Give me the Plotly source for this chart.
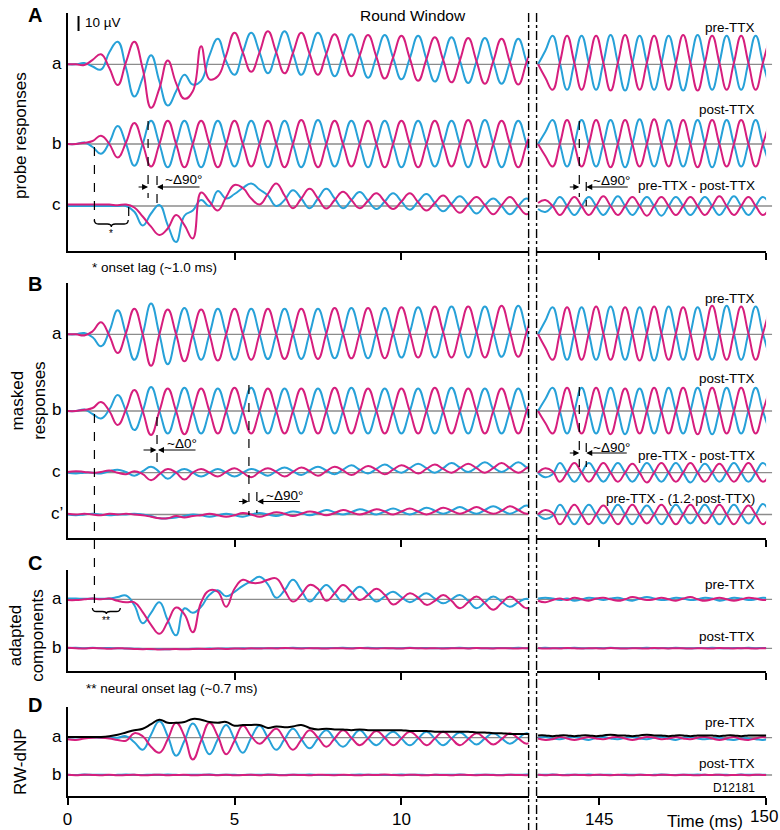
import plotly.graph_objects as go

W, H = 780, 830
PINK = "#d61e7d"
BLUE = "#27a1d8"
GRAY = "#8c8c8c"
FONT = "Liberation Sans, Arial, Helvetica, sans-serif"

# ---------------- sample times (ms) ----------------
t_left = [i * 0.25 for i in range(57)]                      # 0 .. 14 ms
t_right = [round(143.170 + j * 0.21726, 4) for j in range(33)]  # 143.2 .. 150.1 ms

# ---------------- data (µV) ----------------
# Panel A, probe responses
A_a_pink_L = [0, 0, -0.5, 3, 6.7, -2.5, -13.8, 1.5,
              15, -3, -29, -16, 2.5, -12.5, -23, -18,
              12, -10, -8, 6, 21, 8, -5, 8,
              22, 8, -6, 7.5, 21, 7, -7, 7,
              20, 6, -8, 6, 19.5, 5, -9.5, 4.5,
              19, 4, -11, 3.5, 18, 3, -12, 2.5,
              17.5, 2, -13, 2, 17, 1.5, -13.5, 1.5,
              16.5]
A_a_blue_L = [0, 0, 0.8, -1.5, -3.5, 8, 15, -2.5,
              -21.5, -9, 6, -11.5, -27.5, -18, -7, -13.5,
              -11, 6, 17, 2, -7, 8, 21, 8,
              -6, 8, 22, 7.5, -7, 7, 21, 7,
              -8, 6, 20, 6, -9, 5, 19.5, 4.5,
              -10, 4, 19, 3.5, -11.5, 3, 18, 2.5,
              -12.5, 2, 17.5, 2, -13, 1.5, 17, 1.5,
              -13.5]
A_a_pink_R = [0, -9, -17, 1, 19, 1, -17, 1, 19, 1, -17.5, 1, 19.5, 1, -17, 1,
              19, 1, -17, 1, 19.5, 1, -17.5, 1, 19, 1, -17, 1, 19, 1, -17, 1, 19]
A_a_blue_R = [0, 9, 19, 1, -17, 1, 19, 1, -17, 1, 19.5, 1, -17.5, 1, 19, 1,
              -17, 1, 19, 1, -17.5, 1, 19.5, 1, -17, 1, 19, 1, -17, 1, 19, 1, -17]

A_b_pink_L = [0, 0, 0.8, 2, 5.5, 0, -9, 1,
              14, 0, -15, 0, 15.5, 0, -15.5, 0,
              15.5, 0, -15.5, 0, 15.5, 0, -15, 0,
              15.5, 0, -15.5, 0, 16, 0, -15.5, 0,
              15.5, 0, -15, 0, 15.5, 0, -15.5, 0,
              15.5, 0, -15.5, 0, 15.5, 0, -15, 0,
              16, 0, -15.5, 0, 15.5, 0, -15.5, 0,
              15.5]
A_b_blue_L = [0, 0, 1, -2, -6.5, 1, 12, 0,
              -14.5, 0, 15.5, 0, -15.5, 0, 15.5, 0,
              -15.5, 0, 15.5, 0, -15, 0, 15.5, 0,
              -15.5, 0, 15.5, 0, -15.5, 0, 16, 0,
              -15, 0, 15.5, 0, -15.5, 0, 15.5, 0,
              -15.5, 0, 15.5, 0, -15, 0, 15.5, 0,
              -15.5, 0, 16, 0, -15.5, 0, 15.5, 0,
              -15.5]
A_b_pink_R = [0, -8, -15, 0, 16, 0, -15, 0, 16, 0, -15.5, 0, 16, 0, -15, 0,
              16.5, 0, -15, 0, 16, 0, -15.5, 0, 16, 0, -15, 0, 16, 0, -15, 0, 16]
A_b_blue_R = [0, 8, 16, 0, -15, 0, 16, 0, -15, 0, 16, 0, -15.5, 0, 16.5, 0,
              -15, 0, 16, 0, -15, 0, 16, 0, -15.5, 0, 16, 0, -15, 0, 16, 0, -15]

A_c_pink_L = [1, 1, 1, 1, 1, 1, 0.5, 1,
              -1, -7, -13.8, -19.3, -15, -6, -12.7, -21.6,
              9, 3, -3, 6, 14, 12, 5, 1,
              8, 15, 7, -1.5, 5, 11.5, 5, -1.7,
              4, 9.5, 4, -1.5, 3.5, 8.5, 3, -2,
              3, 8.5, 2.5, -3, 2, 7, 1, -4.5,
              1, 6, 0.5, -5.5, 0.5, 6, 0, -5.5,
              0]
A_c_blue_L = [0, 0, 0, 0, 0, 0, 0, 0,
              -3.8, -13, -5, 0.7, -12.7, -24, -6.5, -3,
              4, 0, 10, 5, 8, 12, 15, 11,
              7, 0, 4, 10.5, 5, -1.5, 5, 11.5,
              5, -1.5, 4, 9.3, 3.5, -2, 3, 8.5,
              3, -2.5, 3, 8, 2, -3.5, 1.5, 6.5,
              1, -5, 0.5, 5, 0, -5.5, 0, 5,
              0]
A_c_pink_R = [2, 4, 0, -6, 0, 6, 0, -6, 0, 6.5, 0, -6, 0, 6, 0, -6.5,
              0, 6, 0, -6, 0, 6, 0, -6, 0, 6.5, 0, -6, 0, 6, 0, -6, 0]
A_c_blue_R = [-2, -4, 0, 6, 0, -6, 0, 6, 0, -6, 0, 6.5, 0, -6, 0, 6,
              0, -6.5, 0, 6, 0, -6, 0, 6, 0, -6, 0, 6.5, 0, -6, 0, 6, 0]

# Panel B, masked responses
B_a_pink_L = [0, 0, -0.8, 2, 8, -1, -12.5, 1,
              17, 0, -21, 0, 16.5, 0, -18, 0,
              16.5, 0, -17.5, 0, 17, 0, -17, 0,
              17, 0, -16.5, 0.5, 17, 0.5, -16.5, 0.5,
              17.5, 0.5, -16, 0.5, 17.5, 1, -16, 1,
              18, 1, -15.5, 1.5, 18.5, 1.5, -15.5, 1.5,
              18.5, 1.5, -15.5, 1.5, 19, 1.5, -15, 1.5,
              19]
B_a_blue_L = [0, 0, 0.8, -2, -8, 2, 16, 0,
              -17, 0, 20.5, 0, -20, 0, 17.5, 0,
              -17, 0, 17, 0, -17, 0, 17, 0,
              -16.5, 0, 17, 0.5, -16.5, 0.5, 17, 0.5,
              -16, 0.5, 17.5, 0.5, -16, 1, 17.5, 1,
              -15.5, 1, 18, 1.5, -15.5, 1.5, 18.5, 1.5,
              -15.5, 1.5, 18.5, 1.5, -15, 1.5, 19, 1.5,
              -15]
B_a_pink_R = [0, -9, -17, 0.5, 18, 0.5, -17, 0.5, 18.5, 0.5, -17, 0.5, 18, 0.5, -17.5, 0.5,
              18.5, 0.5, -17, 0.5, 18, 0.5, -17, 0.5, 19, 0.5, -17, 0.5, 18.5, 0.5, -17, 0.5, 18]
B_a_blue_R = [0, 9, 18, 0.5, -17, 0.5, 18, 0.5, -17, 0.5, 18.5, 0.5, -17, 0.5, 18, 0.5,
              -17.5, 0.5, 18.5, 0.5, -17, 0.5, 18, 0.5, -17, 0.5, 19, 0.5, -17, 0.5, 18.5, 0.5, -17]

B_b_pink_L = [0, 0, 0.8, 2, 6, 0, -9.3, 1,
              14, 0, -16, 0, 15, 0, -15.5, 0,
              15, 0, -15, 0, 15.5, 0, -15, 0,
              15, 0, -15, 0, 15, 0, -15, 0,
              15.5, 0, -15, 0, 15, 0, -15, 0,
              15, 0, -15, 0, 15.5, 0, -15, 0,
              15, 0, -15, 0, 15, 0, -15, 0,
              15]
B_b_blue_L = [0, 0, 1, -2, -5, 1, 10.7, 0,
              -12.7, 0, 16, 0, -15, 0, 15.5, 0,
              -15, 0, 15, 0, -15, 0, 15.5, 0,
              -15, 0, 15, 0, -15, 0, 15, 0,
              -15, 0, 15.5, 0, -15, 0, 15, 0,
              -15, 0, 15, 0, -15, 0, 15.5, 0,
              -15, 0, 15, 0, -15, 0, 15, 0,
              -15]
B_b_pink_R = [0, -8, -15, 0, 15.5, 0, -15, 0, 15.5, 0, -15.5, 0, 15, 0, -15, 0,
              15.5, 0, -15, 0, 15.5, 0, -15.5, 0, 15.5, 0, -15, 0, 15.5, 0, -15, 0, 15.5]
B_b_blue_R = [0, 8, 15.5, 0, -15, 0, 15.5, 0, -15, 0, 15.5, 0, -15.5, 0, 15, 0,
              -15, 0, 15.5, 0, -15, 0, 15.5, 0, -15.5, 0, 15.5, 0, -15, 0, 15.5, 0, -15]

B_c_pink_L = [0.5, 1, 0.5, 0, 0.5, 1.5, 0, -1,
              1, -1, -5, -1, 2.5, 0, -4.5, 0,
              2.5, 0, -2.5, 0.5, 3, 0, -3, 0.5,
              3, 0.5, -2.5, 0.5, 3.5, 1, -2, 1,
              4, 1.5, -1.5, 1.5, 4.5, 2, -1, 2,
              5, 2.5, -0.5, 2.5, 5.5, 2.5, 0, 3,
              6, 3, 0, 3, 6.5, 3, 0, 3,
              6]
B_c_blue_L = [0, -0.5, 0, 0, -0.5, 1, 2, 0.5,
              -2, 1, 4, 0.5, -4, 0, 2.5, 0,
              -2.5, 0, 2.5, 0, -2.5, 0, 2.5, 0.5,
              -2, 1, 3.5, 1, -1.5, 1.5, 4, 1.5,
              -1, 2, 5, 2, -0.5, 2.5, 5.5, 2.5,
              0, 3, 6, 3, 0, 3, 6.5, 3.5,
              0.5, 3.5, 7, 3.5, 0.5, 3.5, 7, 3.5,
              0.5]
B_c_pink_R = [0, 3, 1, -6, 0, 6.5, 0, -6, 0, 6.5, 0, -6, 0, 6, 0, -6.5,
              0, 6.5, 0, -6, 0, 6.5, 0, -6, 0, 6, 0, -6, 0, 6.5, 0, -6, 0]
B_c_blue_R = [0, -3, -1, 6.5, 0, -6, 0, 6.5, 0, -6, 0, 6.5, 0, -6, 0, 6.5,
              0, -6, 0, 6.5, 0, -6.5, 0, 6, 0, -6, 0, 6.5, 0, -6, 0, 6.5, 0]

B_cp_pink_L = [0.5, 0, 0.5, 0, -0.5, 0.5, 0, 0.5,
               0, -0.5, -1.5, -2.5, -2.5, -1, -2, -1,
               -0.5, 0.5, -0.5, -1.5, -0.5, 1, 0, -1.5,
               0, 1.5, 0.5, -1, 0.5, 2, 1, -0.5,
               1, 3, 1.5, 0, 1.5, 3.5, 2, 0,
               2, 4, 2, 0, 2, 4.5, 2.5, 0.5,
               2.5, 5, 2.5, 0.5, 2.5, 5.5, 3, 0.5,
               2.5]
B_cp_blue_L = [0, -0.5, 0, 0.5, 0, -0.5, 0, 0,
               0.5, 0, -1, -2.5, -2.5, -2, -1, 0,
               -0.5, -1.5, -0.5, 0.5, -0.5, -1.5, 0, 1,
               0, -1, 0.5, 2, 1, -0.5, 1, 3,
               1.5, 0, 1.5, 3.5, 2, 0, 2, 4,
               2, 0, 2, 4.5, 2.5, 0.5, 2.5, 5,
               2.5, 0.5, 3, 5.5, 3, 0.5, 3, 6,
               3]
B_cp_pink_R = [0, 3, 1, -6.5, 0, 6.5, 0, -6.5, 0, 6, 0, -6.5, 0, 6.5, 0, -6,
               0, 6.5, 0, -6.5, 0, 6.5, 0, -6, 0, 6.5, 0, -6.5, 0, 6, 0, -6.5, 0]
B_cp_blue_R = [0, -3, -1, 6.5, 0, -6.5, 0, 6.5, 0, -6, 0, 6.5, 0, -6.5, 0, 6,
               0, -6.5, 0, 6.5, 0, -6, 0, 6.5, 0, -6.5, 0, 6.5, 0, -6, 0, 7, 0]

# Panel C, adapted components
C_a_pink_L = [-0.5, -0.5, 0, 0.5, 0, 0.5, -1, -2,
              -2, -8.5, -17, -23, -15, -5.5, -10, -22,
              -2, 6, 5, -5, 7, 13, 11, 11,
              13, 14, 6, -1.5, 3, 9.6, 7, -1,
              4, 9.6, 5, -0.5, 3, 7, 3, -3.5,
              0, 4, 1, -3.7, -1, 2.9, -1, -6,
              -2, 1.8, -2.5, -7, -2.5, 1.8, -2, -6,
              -2]
C_a_blue_L = [0.5, 0.5, 0.3, 0.5, 0.3, 0.5, 1.5, 2.5,
              -4, -16, -9, -2, -14, -24, -6, -9,
              -5, 3, 6, 2, 5, 9, 12, 15,
              10, 1, 6, 13, 6, -1.5, 4, 9.6,
              4, -1.5, 3.5, 8.4, 3.5, -1.5, 2, 5,
              1.5, -2, 1, 4, 0.5, -2.7, 0, 2.9,
              -1, -6, -2, 1.8, -1.5, -5, -2, 0.3,
              -2]
C_a_pink_R = [-1, -2, -0.5, 0.5, -0.5, 1, 0, -1, 0.5, 1, 0, -1, 0, 1.5, 0.5, -0.5,
              0, 1, 0, -1, 0.5, 1.5, 0, -1, 0, 1, 0, -1, 0, 1, 0.5, -0.5, 0]
C_a_blue_R = [0.5, 1, 0.5, -0.5, 0.5, -1, 0, 1, 0.5, -0.5, 0.5, 1, 0, -1, 0.5, 1.5,
              0.5, -0.5, 0, 1, 0.5, -0.5, 0, 1, 0.5, -1, 0, 1, 0.5, -0.5, 0, 1, 0.5]

C_b_pink_L = [0.3, 0, -0.2, 0.2, 0, -0.3, 0.1, -0.2,
              -0.4, -0.6, -0.5, -0.8, -0.6, -0.5, -0.7, -0.4,
              -0.3, -0.5, -0.2, -0.4, -0.1, -0.3, 0, -0.2,
              0.1, -0.1, 0.2, 0, -0.2, 0.1, 0, -0.2,
              0.1, 0, -0.1, 0.2, 0, -0.2, 0.1, 0,
              -0.1, 0.2, 0, -0.1, 0.1, -0.2, 0, 0.1,
              -0.1, 0.2, 0, -0.1, 0.1, 0, -0.1, 0.1,
              0]
C_b_blue_L = [0.2, 0.4, 0.1, 0.3, 0.1, 0.2, 0, -0.1,
              -0.3, -0.4, -0.6, -0.5, -0.7, -0.4, -0.5, -0.3,
              -0.4, -0.2, -0.3, -0.1, -0.2, 0, -0.1, 0.1,
              0, 0.2, 0.1, 0.3, 0.1, 0.2, 0, 0.1,
              0.2, 0.3, 0.1, 0.2, 0.3, 0.1, 0.2, 0,
              0.1, 0.3, 0.1, 0.2, 0, 0.1, 0.2, 0.3,
              0.1, 0.2, 0, 0.1, 0.2, 0.1, 0.3, 0.1,
              0.2]
C_b_pink_R = [0.2, -0.2, 0.1, -0.1, 0.2, 0, -0.2, 0.1, 0, -0.1, 0.2, 0, -0.2, 0.1, 0, -0.1,
              0.2, 0, -0.1, 0.1, 0, -0.2, 0.1, 0, -0.1, 0.2, 0, -0.1, 0.1, 0, -0.2, 0.1, 0]
C_b_blue_R = [0.1, 0.3, 0, 0.2, 0.1, 0.3, 0.1, 0, 0.2, 0.1, 0.3, 0.1, 0, 0.2, 0.1, 0.3,
              0, 0.2, 0.1, 0.3, 0.1, 0, 0.2, 0.1, 0.3, 0.1, 0, 0.2, 0.1, 0.3, 0.1, 0.2, 0.1]

# Panel D, RW-dNP
D_a_pink_L = [-1, -1.5, -0.5, 0, 0, -0.5, -1.5, -2,
              3, 1, -6, -10, -1, 10, 1, -14.5,
              -2, 10, 1, -11, -2, 8, 1, -4,
              1, 6, -1, -8, -1.5, 5, 0, -6,
              -0.5, 5, 0, -5, -0.5, 4.5, 0, -5,
              -0.5, 4, 0, -5, -0.5, 4, -0.5, -5,
              -1, 3, -0.5, -4.5, -1, 3, -0.5, -4,
              -0.5]
D_a_blue_L = [0, 0.3, 0, 0.3, 0, 0.3, 0, 1,
              -3, -8, 2, 11, 1, -12, -2, 9.5,
              0, -11, -1, 8.5, -1, -10, 0, 8,
              0, -8, -1, 6, -1, -7, -0.5, 5,
              -1, -6, -0.5, 5, -0.5, -5, 0, 4,
              -0.5, -5, -0.5, 4, -0.5, -5, -0.5, 3.5,
              -0.5, -4.5, -0.5, 3, -0.5, -4, -0.5, 3,
              -0.5]
D_a_black_L = [0.5, 0.5, 0.5, 0.5, 0.5, 1, 2, 3.5,
               5, 6, 9, 12, 10, 10, 10.5, 12.5,
               12, 10.5, 10, 10.5, 8, 8.5, 8.5, 8.5,
               6.5, 7.5, 7, 7.5, 8.5, 6.5, 5.5, 6,
               5.5, 5.5, 5, 5.5, 5, 5, 5, 5,
               5, 4.5, 4.5, 4.5, 4, 4, 4, 4,
               4, 3.5, 3.5, 3, 3, 2.5, 2.5, 2.5,
               2.5]
D_a_pink_R = [-0.5, -1.5, -1, 0.5, -0.5, -1.5, -0.5, 0.5, -0.5, -1, 0, 0.5, -0.5, -1.5, -0.5, 0.5,
              0, -1, -0.5, 0.5, -0.5, -1, 0, 0.5, -0.5, -1.5, -0.5, 0.5, -1, -1.5, -0.5, 0.5, -0.5]
D_a_blue_R = [0, 0.5, -0.5, -1, 0, 0.5, -0.5, -1.5, 0, 0.5, -0.5, -1, 0, 0.5, -0.5, -1,
              0, 0.5, -0.5, -1.5, 0, 0.5, -0.5, -1, -0.5, 0, -1, -1.5, -0.5, -0.5, -1, -1.5, -0.5]
D_a_black_R = [1.5, 1.5, 1, 1.5, 1.5, 1, 1.5, 1.5, 1, 1.5, 2, 1.5, 1.5, 1, 1.5, 2,
               1.5, 1.5, 1, 1.5, 1.5, 1, 1.5, 1.5, 1.5, 1, 1.5, 1.5, 1, 1.5, 1.5, 1.5, 1.5]

D_b_pink_L = [0.1, -0.2, 0.2, 0, -0.1, 0.2, -0.2, 0,
              0.1, -0.2, 0, 0.2, -0.1, 0, 0.1, -0.2,
              0, 0.2, -0.1, 0.1, -0.2, 0, 0.1, -0.1,
              0.2, 0, -0.2, 0.1, 0, -0.1, 0.2, 0,
              -0.1, 0.1, 0, -0.2, 0.1, 0, 0.3, 0,
              -0.1, 0.2, 0, -0.2, 0.1, 0, -0.1, 0.2,
              0, -0.1, 0.1, 0, -0.2, 0.1, 0, -0.1,
              0.1]
D_b_blue_L = [0.2, 0, 0.3, 0.1, 0.2, 0, 0.1, 0.3,
              0.1, 0, 0.2, 0.1, 0.3, 0.1, 0, 0.2,
              0.1, 0.3, 0, 0.2, 0.1, 0, 0.2, 0.1,
              0.3, 0.1, 0, 0.2, 0.1, 0.3, 0, 0.1,
              0.2, 0, 0.1, 0.3, 0.1, 0.2, 0, 0.1,
              0.3, 0.1, 0.2, 0, 0.1, 0.2, 0.1, 0.3,
              0, 0.1, 0.2, 0.1, 0, 0.2, 0.1, 0.3,
              0.1]
D_b_pink_R = [0.1, -0.1, 0.2, 0, -0.2, 0.1, 0, -0.1, 0.2, 0, -0.1, 0.1, 0, -0.2, 0.1, 0,
              -0.1, 0.2, 0, -0.1, 0.1, 0, -0.2, 0.1, 0, 0.2, -0.1, 0, 0.1, -0.1, 0.2, 0, 0]
D_b_blue_R = [0.2, 0.1, 0.3, 0, 0.1, 0.2, 0.1, 0.3, 0, 0.2, 0.1, 0, 0.3, 0.1, 0.2, 0,
              0.1, 0.3, 0.1, 0, 0.2, 0.1, 0.3, 0.1, 0, 0.2, 0.1, 0, 0.3, 0.1, 0.2, 0.1, 0.2]

SCALE_BAR_UV = 10
RIGHT_TICKS = [145, 150]
LEFT_TICKS = [0, 5, 10]

# ---------------- layout constants (pixels) ----------------
PX_PER_UV = 1.5
XL0, XL1, XR0, XR1 = 63, 527, 535, 766
LEFT_RANGE = [0, 13.81]
RIGHT_RANGE = [143.125, 150]

panels = [
    dict(name="A", top=13, bottom=251, label_y=15,
         rows=[("a", 64.3, A_a_pink_L, A_a_blue_L, A_a_pink_R, A_a_blue_R),
               ("b", 144, A_b_pink_L, A_b_blue_L, A_b_pink_R, A_b_blue_R),
               ("c", 206, A_c_pink_L, A_c_blue_L, A_c_pink_R, A_c_blue_R)]),
    dict(name="B", top=283, bottom=538, label_y=284,
         rows=[("a", 334.3, B_a_pink_L, B_a_blue_L, B_a_pink_R, B_a_blue_R),
               ("b", 411, B_b_pink_L, B_b_blue_L, B_b_pink_R, B_b_blue_R),
               ("c", 472.7, B_c_pink_L, B_c_blue_L, B_c_pink_R, B_c_blue_R),
               ("c’", 514.5, B_cp_pink_L, B_cp_blue_L, B_cp_pink_R, B_cp_blue_R)]),
    dict(name="C", top=570, bottom=671, label_y=563,
         rows=[("a", 599.3, C_a_pink_L, C_a_blue_L, C_a_pink_R, C_a_blue_R),
               ("b", 648.3, C_b_pink_L, C_b_blue_L, C_b_pink_R, C_b_blue_R)]),
    dict(name="D", top=707, bottom=796, label_y=705,
         rows=[("a", 737.7, D_a_pink_L, D_a_blue_L, D_a_pink_R, D_a_blue_R),
               ("b", 775, D_b_pink_L, D_b_blue_L, D_b_pink_R, D_b_blue_R)]),
]


def px(x):
    return x / W


def py(y):
    return 1 - y / H


fig = go.Figure()
layout = dict(width=W, height=H, margin=dict(l=0, r=0, t=0, b=0, pad=0),
              paper_bgcolor="white", plot_bgcolor="rgba(0,0,0,0)",
              showlegend=False, font=dict(family=FONT, color="black"))
shapes = []
annotations = []

line_style = dict(shape="spline", smoothing=1.3, width=2)


def text_ann(s, x, y, size, xanchor="center", angle=0, bold=False):
    return dict(text=("<b>%s</b>" % s) if bold else s, x=px(x), y=py(y),
                xref="paper", yref="paper", xanchor=xanchor, yanchor="middle",
                showarrow=False, textangle=angle, font=dict(size=size, family=FONT))


for p, pan in enumerate(panels):
    ysuf = "" if p == 0 else str(p + 1)
    xl = 2 * p + 1
    xr = 2 * p + 2
    xl_s = "" if xl == 1 else str(xl)
    xr_s = str(xr)
    top, bottom = pan["top"], pan["bottom"]
    last = p == len(panels) - 1

    layout["yaxis" + ysuf] = dict(
        domain=[py(bottom), py(top)], range=[-(bottom - top) / PX_PER_UV, 0],
        anchor="x" + xl_s, showline=True, linewidth=2, linecolor="black",
        ticks="", showticklabels=False, showgrid=False, zeroline=False)
    common_x = dict(anchor="y" + ysuf, showline=True, linewidth=2, linecolor="black",
                    ticks="outside", ticklen=7, tickwidth=2, tickcolor="black",
                    showgrid=False, zeroline=False, showticklabels=last,
                    tickfont=dict(size=17, family=FONT))
    layout["xaxis" + xl_s] = dict(domain=[px(XL0), px(XL1)], range=LEFT_RANGE,
                                  tickvals=LEFT_TICKS if last else LEFT_TICKS[1:], **common_x)
    # the last right-hand label sits on the figure edge, so it is drawn as an annotation below
    layout["xaxis" + xr_s] = dict(domain=[px(XR0), px(XR1)], range=RIGHT_RANGE,
                                  tickvals=RIGHT_TICKS,
                                  ticktext=[str(RIGHT_TICKS[0]), ""], **common_x)

    for (lab, row_px, pk_l, bl_l, pk_r, bl_r) in pan["rows"]:
        off = -(row_px - top) / PX_PER_UV
        # gray baselines
        shapes.append(dict(type="line", xref="paper", yref="paper", x0=px(XL0), x1=px(XL1),
                           y0=py(row_px), y1=py(row_px), line=dict(color=GRAY, width=1.3), layer="below"))
        shapes.append(dict(type="line", xref="paper", yref="paper", x0=px(XR0), x1=px(772),
                           y0=py(row_px), y1=py(row_px), line=dict(color=GRAY, width=1.3), layer="below"))
        for tx, vals, col, xs in [(t_left, bl_l, BLUE, xl_s), (t_left, pk_l, PINK, xl_s),
                                  (t_right, bl_r, BLUE, xr_s), (t_right, pk_r, PINK, xr_s)]:
            fig.add_trace(go.Scatter(x=tx, y=[off + v for v in vals], mode="lines",
                                     line=dict(color=col, **line_style),
                                     xaxis="x" + xs, yaxis="y" + ysuf, hoverinfo="skip"))
        if pan["name"] == "D" and lab == "a":
            for tx, vals, xs in [(t_left, D_a_black_L, xl_s), (t_right, D_a_black_R, xr_s)]:
                fig.add_trace(go.Scatter(x=tx, y=[off + v for v in vals], mode="lines",
                                         line=dict(color="black", **line_style),
                                         xaxis="x" + xs, yaxis="y" + ysuf, hoverinfo="skip"))
        annotations.append(text_ann(lab, 52, row_px - 1, 17))

    annotations.append(text_ann(pan["name"], 30, pan["label_y"], 20, bold=True))

# "150" label of the bottom right axis (anchored at the tick position, kept inside the page)
annotations.append(dict(text=str(RIGHT_TICKS[1]), x=RIGHT_TICKS[1], xref="x8",
                        y=py(805), yref="paper", xanchor="right", yanchor="top", xshift=13.5,
                        showarrow=False, font=dict(size=17, family=FONT)))

# scale bar (10 µV) in panel A
sb_bottom = -(31 - 13) / PX_PER_UV
fig.add_trace(go.Scatter(x=[(74 - 63) / 33.6] * 2, y=[sb_bottom, sb_bottom + SCALE_BAR_UV],
                         mode="lines", line=dict(color="black", width=2),
                         xaxis="x", yaxis="y", hoverinfo="skip"))

# axis break lines
for bx in (527, 535):
    shapes.append(dict(type="line", xref="paper", yref="paper", x0=px(bx), x1=px(bx),
                       y0=py(13), y1=py(830), line=dict(color="black", width=1.4, dash="dashdot")))

# dashed marker lines
dashed = [(90, 147, 222), (124.5, 207, 222), (144, 121, 198), (153, 176, 206),
          (578, 121, 197), (585, 182, 206),
          (90, 414, 610), (153, 417, 470), (245.5, 385, 515), (253.5, 492, 513),
          (578, 387, 467), (585, 443, 467)]
for (x, y0, y1) in dashed:
    shapes.append(dict(type="line", xref="paper", yref="paper", x0=px(x), x1=px(x),
                       y0=py(y0), y1=py(y1), line=dict(color="black", width=1.2, dash="dash")))


def brace(x0, x1, y, depth, tip):
    xm = (x0 + x1) / 2
    pts = [("M", [(x0, y)]), ("Q", [(x0, y + depth), (x0 + 4, y + depth)]),
           ("L", [(xm - 4, y + depth)]), ("Q", [(xm, y + depth), (xm, y + depth + tip)]),
           ("Q", [(xm, y + depth), (xm + 4, y + depth)]), ("L", [(x1 - 4, y + depth)]),
           ("Q", [(x1, y + depth), (x1, y)])]
    s = ""
    for cmd, cc in pts:
        s += cmd + " " + " ".join("%.5f,%.5f" % (px(a), py(b)) for a, b in cc) + " "
    return s.strip()


shapes.append(dict(type="path", xref="paper", yref="paper", path=brace(90, 124, 220, 4, 3),
                   line=dict(color="black", width=1.3)))
shapes.append(dict(type="path", xref="paper", yref="paper", path=brace(88, 116, 608, 3.5, 2.5),
                   line=dict(color="black", width=1.3)))

# arrows (tip_x, tail_x, y)
arrows = [(144, 133, 187), (153, 197, 187), (578, 567, 187), (585, 628, 187),
          (152.5, 138, 450), (154, 193, 450), (245, 234, 501.5), (254, 298, 501.5),
          (578, 567, 453), (585, 627, 453)]
for (tip, tail, y) in arrows:
    annotations.append(dict(text="", x=px(tip), y=py(y), xref="paper", yref="paper",
                            ax=tail - tip, ay=0, showarrow=True, arrowhead=2, arrowsize=1,
                            arrowwidth=1.2, arrowcolor="black", standoff=0))

texts = [
    ("10 µV", 78, 23, 13.5, "left"),
    ("Round Window", 411, 15, 15.5, "center"),
    ("pre-TTX", 757, 27, 13.5, "right"), ("post-TTX", 757, 110, 13.5, "right"),
    ("pre-TTX - post-TTX", 757, 185, 13.5, "right"),
    ("pre-TTX", 757, 298, 13.5, "right"), ("post-TTX", 757, 378, 13.5, "right"),
    ("pre-TTX - post-TTX", 757, 455, 13.5, "right"),
    ("pre-TTX - (1.2·post-TTX)", 757, 498, 13.5, "right"),
    ("pre-TTX", 757, 584, 13.5, "right"), ("post-TTX", 757, 636, 13.5, "right"),
    ("pre-TTX", 757, 722, 13.5, "right"), ("post-TTX", 757, 763, 13.5, "right"),
    ("D12181", 757, 788, 12, "right"),
    ("* onset lag (~1.0 ms)", 86, 267, 13.5, "left"),
    ("** neural onset lag (~0.7 ms)", 80, 688, 13.5, "left"),
    ("~Δ90°", 180, 179, 13.5, "center"), ("~Δ90°", 610, 180, 13.5, "center"),
    ("~Δ0°", 178, 443, 13.5, "center"), ("~Δ90°", 281, 495, 13.5, "center"),
    ("~Δ90°", 610, 447, 13.5, "center"),
    ("*", 107, 233, 10, "center"), ("**", 102, 620, 10, "center"),
    ("Time (ms)", 705, 821, 17, "center"),
]
for (s, x, y, fs, anc) in texts:
    annotations.append(text_ann(s, x, y, fs, xanchor=anc))

ytitles = [("probe responses", 15, 135), ("masked<br>responses", 24, 401),
           ("adapted<br>components", 21, 635), ("RW-dNP", 15, 762)]
for (s, x, y) in ytitles:
    annotations.append(text_ann(s, x, y, 17, angle=-90))

layout["shapes"] = shapes
layout["annotations"] = annotations
fig.update_layout(**layout)
fig.write_html("out.html", config={"displayModeBar": False},
               post_script="document.body.style.margin='0';document.body.style.padding='0';")
